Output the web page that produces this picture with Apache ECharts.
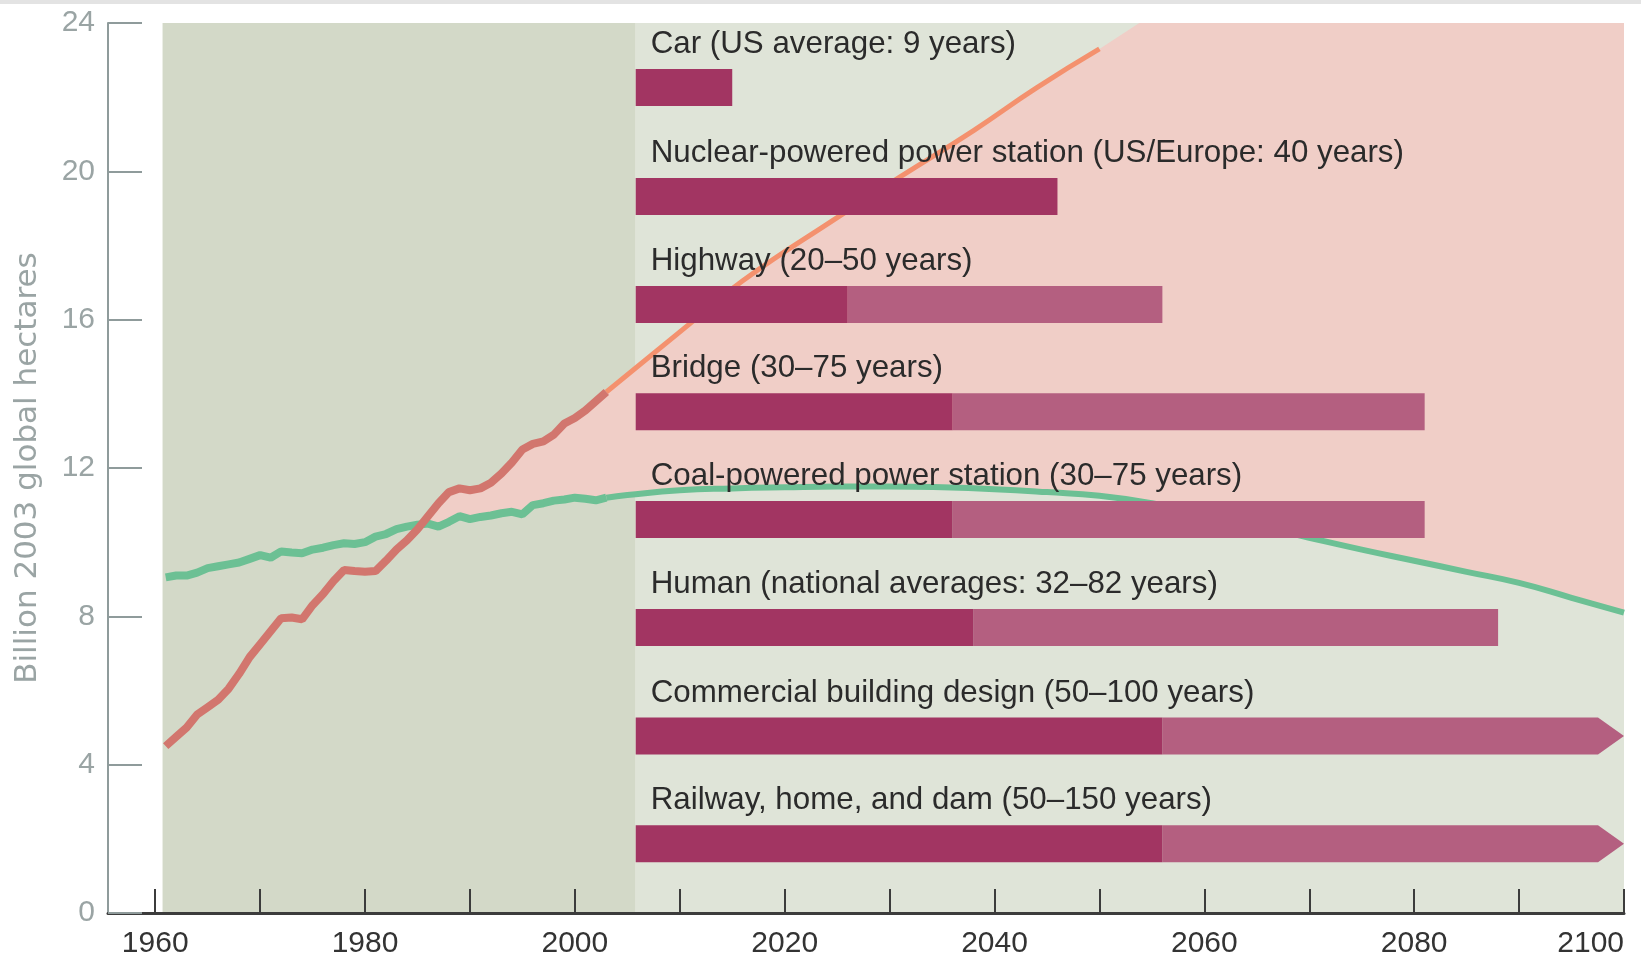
<!DOCTYPE html>
<html>
<head>
<meta charset="utf-8">
<title>Ecological footprint and lifespans</title>
<script src="https://cdn.jsdelivr.net/npm/echarts@6/dist/echarts.min.js"></script>
<style>
  html, body { margin: 0; padding: 0; background: #fff; }
  #chart { width: 1641px; height: 959px; }
  .topline { position: absolute; left: 0; top: 0; width: 1641px; height: 4px; background: #e3e3e3; }
</style>
</head>
<body>
<div id="chart"></div>
<div class="topline"></div>
<script>
// historical data, 1961-2003 (billion 2003 global hectares)
const histYears = [1961, 1962, 1963, 1964, 1965, 1966, 1967, 1968, 1969, 1970,
  1971, 1972, 1973, 1974, 1975, 1976, 1977, 1978, 1979, 1980,
  1981, 1982, 1983, 1984, 1985, 1986, 1987, 1988, 1989, 1990,
  1991, 1992, 1993, 1994, 1995, 1996, 1997, 1998, 1999, 2000,
  2001, 2002, 2003]
const footprint = [4.5, 4.75, 5.0, 5.35, 5.55, 5.75, 6.05, 6.45, 6.9, 7.25,
  7.6, 7.95, 7.97, 7.92, 8.3, 8.6, 8.95, 9.25, 9.22, 9.2,
  9.22, 9.5, 9.8, 10.05, 10.35, 10.7, 11.05, 11.35, 11.45, 11.4,
  11.45, 11.6, 11.85, 12.15, 12.5, 12.65, 12.72, 12.9, 13.2, 13.35,
  13.55, 13.8, 14.05]
const biocapacity = [9.05, 9.1, 9.1, 9.18, 9.3, 9.35, 9.4, 9.45, 9.55, 9.65,
  9.58, 9.75, 9.72, 9.7, 9.8, 9.85, 9.92, 9.97, 9.95, 10.0,
  10.15, 10.22, 10.35, 10.42, 10.47, 10.5, 10.42, 10.55, 10.7, 10.62,
  10.68, 10.72, 10.78, 10.82, 10.75, 11.0, 11.05, 11.12, 11.15, 11.2,
  11.17, 11.13, 11.2]

// projections
const footprintProjYears = [2003, 2011, 2016, 2025, 2031, 2038, 2044, 2050]
const footprintProj = [14.05, 15.9, 17.05, 18.75, 19.85, 21.1, 22.25, 23.3]
const overshootEdgeYears = [2053.8, 2100]
const overshootEdge = [24, 24]
const biocapProjYears = [2003, 2005, 2010, 2015, 2020, 2025, 2030, 2035, 2040, 2045,
  2050, 2055, 2060, 2065, 2070, 2075, 2080, 2085, 2090, 2095, 2100]
const biocapProj = [11.2, 11.27, 11.4, 11.45, 11.48, 11.5, 11.5, 11.48, 11.43, 11.35,
  11.25, 11.05, 10.75, 10.45, 10.12, 9.8, 9.5, 9.2, 8.9, 8.5, 8.1]

// background spans (years)
const pastSpan = [1960.7, 2005.8]
const futureSpan = [2005.8, 2100]

// lifespans of things built today
const barLabels = [
  'Car (US average: 9 years)',
  'Nuclear-powered power station (US/Europe: 40 years)',
  'Highway (20\u201350 years)',
  'Bridge (30\u201375 years)',
  'Coal-powered power station (30\u201375 years)',
  'Human (national averages: 32\u201382 years)',
  'Commercial building design (50\u2013100 years)',
  'Railway, home, and dam (50\u2013150 years)'
]
const barStart = 2005.8
const barMinEnd = [2015, 2046, 2026, 2036, 2036, 2038, 2056, 2056]
const barMaxEnd = [2015, 2046, 2056, 2081, 2081, 2088, 2100, 2100]
const barArrow = [false, false, false, false, false, false, true, true]
const barLevels = [22.26, 19.32, 16.41, 13.52, 10.61, 7.7, 4.77, 1.87]

// axis ticks
const tickYears = [1960, 1970, 1980, 1990, 2000, 2010, 2020, 2030, 2040, 2050, 2060, 2070, 2080, 2090, 2100]
const labelYears = [1960, 1980, 2000, 2020, 2040, 2060, 2080, 2100]

const FONT = '"Liberation Sans", Arial, Helvetica, sans-serif'
const DARK_BAR = '#a23562'
const LIGHT_BAR = '#b45f80'
const AXIS_GRAY = '#8f9b9b'

const pairs = (xs, ys) => xs.map((x, i) => [x, ys[i]])

const chart = echarts.init(document.getElementById('chart'))

// overshoot polygon: footprint above biocapacity
const overshootPolygon = (api) => {
  const k = footprint.findIndex((v, i) => v > biocapacity[i])
  const d0 = footprint[k - 1] - biocapacity[k - 1]
  const d1 = footprint[k] - biocapacity[k]
  const t = d0 / (d0 - d1)
  const cross = [histYears[k - 1] + t, footprint[k - 1] + t * (footprint[k] - footprint[k - 1])]
  const upper = [cross]
    .concat(pairs(histYears, footprint).slice(k))
    .concat(pairs(footprintProjYears, footprintProj).slice(1))
    .concat(pairs(overshootEdgeYears, overshootEdge))
  const lower = pairs(biocapProjYears, biocapProj).slice(1).reverse()
    .concat(pairs(histYears, biocapacity).slice(k).reverse())
  return upper.concat(lower).map(p => api.coord(p))
}

chart.setOption({
  animation: false,
  grid: { left: 108, right: 17, top: 23, bottom: 46, containLabel: false },
  xAxis: {
    type: 'value',
    min: 1955.5,
    max: 2100,
    splitLine: { show: false },
    axisLine: { lineStyle: { color: '#3c3c3c', width: 3 } },
    axisTick: { inside: true, length: 24, customValues: tickYears, lineStyle: { color: '#3c3c3c', width: 2 } },
    axisLabel: {
      customValues: labelYears, color: '#333', fontSize: 30, fontFamily: FONT, margin: 16,
      alignMaxLabel: 'right',
      formatter: v => String(v)
    }
  },
  yAxis: {
    type: 'value',
    min: 0,
    max: 24,
    interval: 4,
    splitLine: { show: false },
    axisLine: { show: true, lineStyle: { color: AXIS_GRAY, width: 2 } },
    axisTick: { show: true, inside: true, length: 34, lineStyle: { color: AXIS_GRAY, width: 2 } },
    axisLabel: { color: '#9aa4a4', fontSize: 30, fontFamily: FONT, margin: 13 },
    name: 'Billion 2003 global hectares',
    nameLocation: 'middle',
    nameGap: 65,
    nameTextStyle: { color: '#9aa4a4', fontSize: 31, fontFamily: '"DejaVu Sans", sans-serif' }
  },
  series: [
    {
      // background spans
      type: 'custom',
      z: 0,
      silent: true,
      data: [[pastSpan[0], pastSpan[1], 0], [futureSpan[0], futureSpan[1], 1]],
      encode: { x: [0, 1] },
      renderItem: (params, api) => {
        const a = api.coord([api.value(0), 24])
        const b = api.coord([api.value(1), 0])
        return {
          type: 'rect',
          shape: { x: a[0], y: a[1], width: b[0] - a[0], height: b[1] - a[1] },
          style: { fill: api.value(2) === 0 ? '#d3d9c8' : '#dfe4d8' }
        }
      }
    },
    {
      // overshoot area
      type: 'custom',
      z: 1,
      silent: true,
      data: [[2000, 12]],
      renderItem: (params, api) => ({
        type: 'polygon',
        shape: { points: overshootPolygon(api) },
        style: { fill: '#f0cec7' }
      })
    },
    {
      name: 'Biocapacity projection',
      type: 'line',
      z: 2,
      smooth: true,
      showSymbol: false,
      data: pairs(biocapProjYears, biocapProj),
      lineStyle: { color: '#6cc094', width: 6 }
    },
    {
      name: 'Biocapacity',
      type: 'line',
      z: 3,
      showSymbol: false,
      data: pairs(histYears, biocapacity),
      lineStyle: { color: '#6cc094', width: 8 }
    },
    {
      name: 'Footprint projection',
      type: 'line',
      z: 3,
      smooth: true,
      showSymbol: false,
      data: pairs(footprintProjYears, footprintProj),
      lineStyle: { color: '#f4916e', width: 5 }
    },
    {
      name: 'Footprint',
      type: 'line',
      z: 4,
      showSymbol: false,
      data: pairs(histYears, footprint),
      lineStyle: { color: '#d2766e', width: 8 }
    },
    {
      // lifespans
      type: 'custom',
      z: 6,
      silent: true,
      clip: false,
      data: barLabels.map((_, i) => [barStart, barMinEnd[i], barMaxEnd[i], barLevels[i], i]),
      encode: { x: [0, 1, 2], y: 3 },
      renderItem: (params, api) => {
        const i = api.value(4)
        const lvl = api.value(3)
        const xs = api.coord([api.value(0), lvl])
        const xm = api.coord([api.value(1), lvl])[0]
        const xe = api.coord([api.value(2), lvl])[0]
        const yc = xs[1]
        const h = 37
        const top = yc - h / 2
        const bot = yc + h / 2
        const children = []
        if (xe > xm) {
          if (barArrow[i]) {
            children.push({
              type: 'polygon',
              shape: { points: [[xm, top], [xe - 26, top], [xe, yc], [xe - 26, bot], [xm, bot]] },
              style: { fill: LIGHT_BAR }
            })
          } else {
            children.push({
              type: 'rect',
              shape: { x: xm, y: top, width: xe - xm, height: h },
              style: { fill: LIGHT_BAR }
            })
          }
        }
        children.push({
          type: 'rect',
          shape: { x: xs[0], y: top, width: xm - xs[0], height: h },
          style: { fill: DARK_BAR }
        })
        children.push({
          type: 'text',
          style: {
            text: barLabels[i], x: xs[0] + 15, y: yc - 43,
            fill: '#2b2b2b', fontSize: 31.3, fontFamily: FONT, verticalAlign: 'middle'
          }
        })
        return { type: 'group', children }
      }
    }
  ]
})
</script>
</body>
</html>
